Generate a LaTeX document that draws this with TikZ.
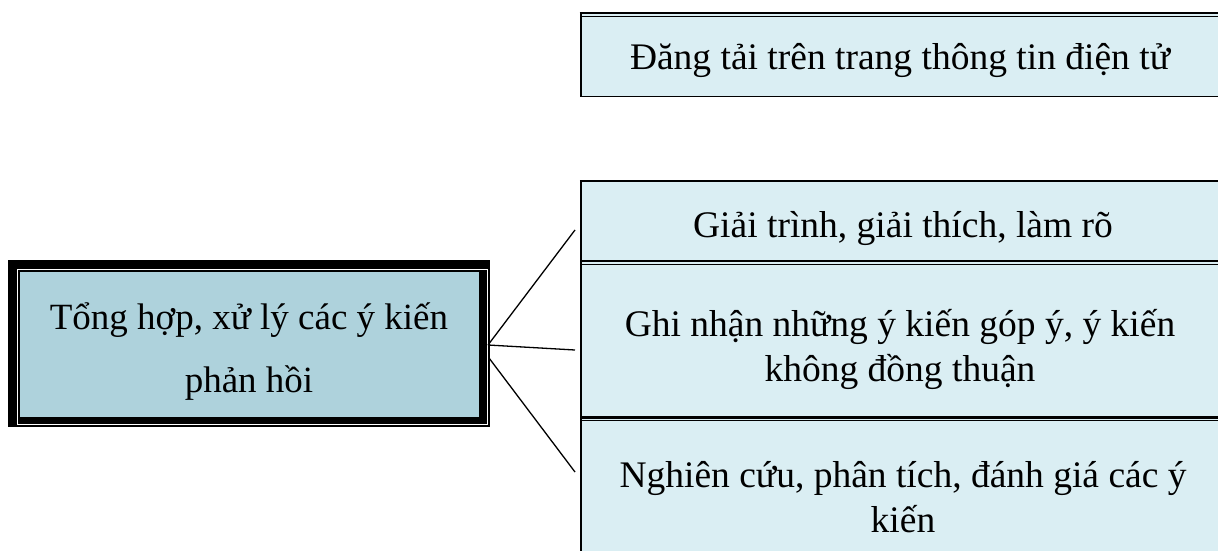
\documentclass[tikz,border=0pt]{standalone}
\usepackage{fontspec}
\setmainfont{Liberation Serif}
\definecolor{rb}{HTML}{DAEEF3}
\definecolor{lb}{HTML}{AED2DC}
\begin{document}
\begin{tikzpicture}[x=1pt,y=-1pt,
  rtxt/.style={font=\fontsize{37.5}{45}\selectfont, align=center, inner sep=0pt, anchor=base},
  ltxt/.style={font=\fontsize{37}{63}\selectfont, align=center, inner sep=0pt, anchor=base},
  thickrule/.style={line width=2.4pt},
  thinrule/.style={line width=1.1pt},
  conn/.style={line width=1.3pt}]
\useasboundingbox (0,0) rectangle (1218,551);
\begin{scope}
\clip (0,0) rectangle (1218,551);
% ---- top box
\fill[rb] (580,13) rectangle (1230,97);
\draw[thickrule] (579.5,13.2) -- (1230,13.2);
\draw[thinrule] (580.5,16.3) -- (1230,16.3);
\draw[line width=1.6pt] (580.8,13) -- (580.8,96.5) -- (1230,96.5);
% ---- right stack
\fill[rb] (580,181) rectangle (1230,560);
\draw[line width=2pt] (579.8,181) -- (1230,181);
\draw[thickrule] (580,261) -- (1230,261);
\draw[thinrule] (580,264.2) -- (1230,264.2);
\draw[thickrule] (580,417.5) -- (1230,417.5);
\draw[thinrule] (580,420.7) -- (1230,420.7);
\draw[line width=1.6pt] (580.8,180) -- (580.8,560);
\end{scope}
% ---- left box
\fill[black] (8,260) rectangle (490,427);
\draw[white, line width=0.9pt] (17.3,269) rectangle (487.8,424);
\fill[lb] (20,272) rectangle (479,417);
% ---- texts
\node[rtxt] (t0) at (900,70) {Đăng tải trên trang thông tin điện tử};
\node[rtxt] (t1) at (903,237) {Giải trình, giải thích, làm rõ};
\node[rtxt] (t2) at (900,381) {Ghi nhận những ý kiến góp ý, ý kiến\\không đồng thuận};
\node[rtxt] (t3) at (903,532) {Nghiên cứu, phân tích, đánh giá các ý\\kiến};
\node[ltxt] (L) at (249,392) {Tổng hợp, xử lý các ý kiến\\phản hồi};
% ---- connectors
\coordinate (s1) at (488,345);
\coordinate (s2) at (489,358);
\coordinate (e1) at (575,230);
\coordinate (e2) at (575,350);
\coordinate (e3) at (575,472);
\draw[conn] (s1) -- (e1);
\draw[conn] (s1) -- (e2);
\draw[conn] (s2) -- (e3);
\end{tikzpicture}
\end{document}
